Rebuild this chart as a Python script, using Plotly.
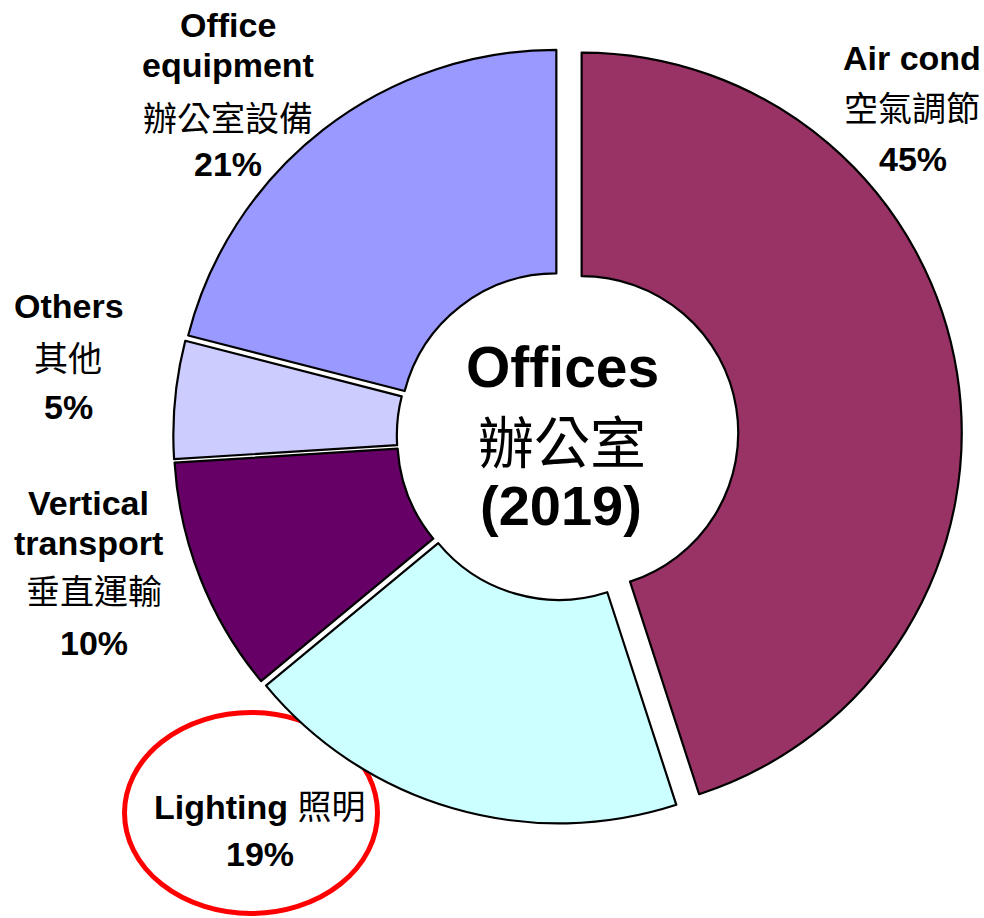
import plotly.graph_objects as go

# ---- data ----
categories_en = ["Air cond", "Lighting", "Vertical transport", "Others", "Office equipment"]
categories_zh = ["空氣調節", "照明", "垂直運輸", "其他", "辦公室設備"]
values = [45, 19, 10, 5, 21]
colors = ["#993366", "#CCFFFF", "#660066", "#CCCCFF", "#9999FF"]
pulls = [0.055, 0.02, 0.02, 0.02, 0.02]

center_title = ["Offices", "辦公室", "(2019)"]

W, H = 984, 918
EN = "Arial, 'Liberation Sans', sans-serif"
ZH = "'Noto Sans CJK TC', 'Noto Sans CJK SC', sans-serif"

fig = go.Figure()
fig.add_trace(go.Pie(
    labels=categories_en,
    values=values,
    sort=False,
    direction="clockwise",
    rotation=0,
    hole=0.412,
    pull=pulls,
    marker=dict(colors=colors, line=dict(color="black", width=2.2)),
    textinfo="none",
    hoverinfo="none",
    showlegend=False,
    domain=dict(x=[160 / W, 962 / W], y=[1 - 837 / H, 1 - 35 / H]),
))


def px(x, y):
    return x / W, 1 - y / H


annotations = []


def add(text, x, y, family, size):
    xx, yy = px(x, y)
    annotations.append(dict(
        text=text, x=xx, y=yy, xref="paper", yref="paper",
        xanchor="center", yanchor="middle", showarrow=False,
        font=dict(family=family, size=size, color="black"),
    ))


pct = {c: f"{v}%" for c, v in zip(categories_en, values)}
zh = dict(zip(categories_en, categories_zh))

# Air cond
add("<b>Air cond</b>", 912, 58, EN, 34)
add(zh["Air cond"], 912, 107, ZH, 34)
add(f"<b>{pct['Air cond']}</b>", 913, 159, EN, 34)

# Office equipment
add("<b>Office</b>", 228, 25, EN, 34)
add("<b>equipment</b>", 228, 65, EN, 34)
add(zh["Office equipment"], 228, 117, ZH, 34)
add(f"<b>{pct['Office equipment']}</b>", 228, 164, EN, 34)

# Others
add("<b>Others</b>", 69, 306, EN, 34)
add(zh["Others"], 68, 357, ZH, 34)
add(f"<b>{pct['Others']}</b>", 68, 407, EN, 34)

# Vertical transport
add("<b>Vertical</b>", 88, 503, EN, 34)
add("<b>transport</b>", 88, 543, EN, 34)
add(zh["Vertical transport"], 94, 589, ZH, 34)
add(f"<b>{pct['Vertical transport']}</b>", 94, 643, EN, 34)

# Lighting
add(f"<b>Lighting</b> <span style='font-family:Noto Sans CJK TC'>{zh['Lighting']}</span>", 260, 804, EN, 34)
add(f"<b>{pct['Lighting']}</b>", 260, 854, EN, 34)

# Center title
add(f"<b>{center_title[0]}</b>", 562, 367, EN, 57)
add(center_title[1], 562, 438, ZH, 56)
add(f"<b>{center_title[2]}</b>", 561, 505, EN, 56)

ex0, ey1 = px(124.5, 913.5)
ex1, ey0 = px(377.5, 712.5)

fig.update_layout(
    width=W, height=H,
    margin=dict(l=0, r=0, t=0, b=0),
    paper_bgcolor="white", plot_bgcolor="white",
    annotations=annotations,
    shapes=[dict(type="circle", xref="paper", yref="paper",
                 x0=ex0, x1=ex1, y0=ey1, y1=ey0,
                 line=dict(color="#FF0000", width=5), layer="below")],
)

fig.write_html(
    "out.html",
    config={"displayModeBar": False},
    post_script="document.body.style.margin='0';document.body.style.overflow='hidden';",
)
